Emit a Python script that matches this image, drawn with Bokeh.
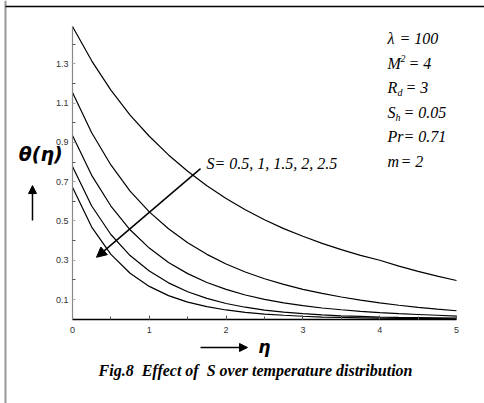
from bokeh.plotting import figure
from bokeh.models import (Range1d, FixedTicker, SingleIntervalTicker, Label, Arrow,
                          NormalHead, LinearAxis)
from bokeh.embed import file_html
from bokeh.resources import INLINE

# ---- data ----
eta = [0, 0.25, 0.5, 0.75, 1.0, 1.25, 1.5, 1.75, 2.0, 2.25, 2.5,
       2.75, 3.0, 3.25, 3.5, 3.75, 4.0, 4.25, 4.5, 4.75, 5.0]
theta_S05 = [1.490, 1.315, 1.166, 1.039, 0.931, 0.836, 0.753, 0.679, 0.614, 0.557, 0.506,
             0.461, 0.422, 0.386, 0.354, 0.325, 0.300, 0.270, 0.243, 0.219, 0.197]
theta_S10 = [1.154, 0.949, 0.785, 0.652, 0.546, 0.460, 0.389, 0.330, 0.281, 0.240, 0.206,
             0.177, 0.152, 0.131, 0.113, 0.097, 0.083, 0.071, 0.060, 0.051, 0.043]
theta_S15 = [0.935, 0.732, 0.576, 0.455, 0.362, 0.289, 0.232, 0.187, 0.152, 0.123, 0.101,
             0.083, 0.069, 0.057, 0.048, 0.040, 0.033, 0.028, 0.024, 0.020, 0.016]
theta_S20 = [0.777, 0.576, 0.431, 0.324, 0.245, 0.185, 0.140, 0.106, 0.080, 0.061, 0.046,
             0.036, 0.028, 0.022, 0.017, 0.014, 0.011, 0.009, 0.008, 0.007, 0.006]
theta_S25 = [0.672, 0.469, 0.330, 0.234, 0.167, 0.120, 0.087, 0.064, 0.047, 0.035, 0.026,
             0.020, 0.015, 0.011, 0.009, 0.007, 0.005, 0.004, 0.003, 0.003, 0.002]
curves = [theta_S05, theta_S10, theta_S15, theta_S20, theta_S25]

S_label = "S= 0.5, 1, 1.5, 2, 2.5"
y_ticks = [0.1, 0.3, 0.5, 0.7, 0.9, 1.1, 1.3]
y_minor = [0.2, 0.4, 0.6, 0.8, 1.0, 1.2, 1.4]

param_name = ["λ", "M", "R", "S", "Pr", "m"]
param_small = ["", "2", "d", "h", "", ""]
param_value = ["100", "4", "3", "0.05", "0.71", "2"]
param_y = [1.4285, 1.3033, 1.1781, 1.0529, 0.9277, 0.8025]

title_text = "Fig.8\u00a0 Effect of\u00a0 S over temperature distribution"

# ---- figure: the frame covers the whole canvas, axes are fixed at 0 ----
p = figure(width=484, height=403, output_backend="svg", toolbar_location=None,
           x_range=Range1d(-0.9375, 5.3646), y_range=Range1d(-0.4290, 1.6219),
           x_axis_location=None, y_axis_location=None,
           min_border=0, min_border_left=0, min_border_right=0,
           min_border_top=0, min_border_bottom=0,
           background_fill_color="white", border_fill_color="white")
p.title.visible = False
p.xgrid.visible = False
p.ygrid.visible = False
p.outline_line_color = None

# decorative frame lines of the original figure box
p.vspan(x=[-0.8724], line_color="#999", line_width=2)
p.segment(x0=[-0.8724], y0=[1.592], x1=[5.3646], y1=[1.592],
          line_color="black", line_width=1.5)

for ys in curves:
    p.line(eta, ys, line_color="black", line_width=1.2)

xa = LinearAxis(fixed_location=0, bounds=(0, 5),
                ticker=SingleIntervalTicker(interval=1, num_minor_ticks=2))
xa.axis_line_color = "black"
xa.axis_line_width = 1.6
xa.major_tick_in = 4
xa.major_tick_out = 0
xa.minor_tick_in = 3
xa.minor_tick_out = 0
xa.major_tick_line_color = "#555"
xa.minor_tick_line_color = "#555"
xa.major_label_text_font = "Liberation Sans"
xa.major_label_text_font_size = "9px"
xa.major_label_text_color = "#333"
xa.major_label_standoff = 8
p.add_layout(xa, "below")

ya = LinearAxis(fixed_location=0, bounds=(0, 1.49),
                ticker=FixedTicker(ticks=y_ticks, minor_ticks=y_minor))
ya.axis_line_color = "#888"
ya.axis_line_width = 1.2
ya.major_tick_in = 3
ya.major_tick_out = 0
ya.minor_tick_in = 3
ya.minor_tick_out = 0
ya.major_tick_line_color = "#aaa"
ya.minor_tick_line_color = "#555"
ya.major_label_text_font = "Liberation Sans"
ya.major_label_text_font_size = "9px"
ya.major_label_text_color = "#333"
ya.major_label_standoff = 4
p.add_layout(ya, "left")

# axis captions with arrows
p.add_layout(Label(x=-0.70, y=0.843, text="θ(η)", text_font="DejaVu Sans",
                   text_font_style="bold italic", text_font_size="19px",
                   text_baseline="middle", text_align="left", text_color="black"))
p.add_layout(Arrow(x_start=-0.521, y_start=0.502, x_end=-0.521, y_end=0.680,
                   line_width=1.5, line_color="black",
                   end=NormalHead(size=8, fill_color="black", line_color="black")))
p.add_layout(Arrow(x_start=1.667, y_start=-0.144, x_end=2.279, y_end=-0.144,
                   line_width=1.5, line_color="black",
                   end=NormalHead(size=8, fill_color="black", line_color="black")))
p.add_layout(Label(x=2.42, y=-0.144, text="η", text_font="DejaVu Sans",
                   text_font_style="bold italic", text_font_size="17px",
                   text_baseline="middle", text_align="left", text_color="black"))

# caption
p.add_layout(Label(x=2.383, y=-0.261, text=title_text, text_font="Liberation Serif",
                   text_font_style="bold italic", text_font_size="16px",
                   text_baseline="middle", text_align="center", text_color="black"))

# S annotation with arrow
p.add_layout(Label(x=1.745, y=0.792, text=S_label, text_font="Liberation Serif",
                   text_font_style="italic", text_font_size="16px",
                   text_baseline="middle", text_align="left", text_color="black"))
p.add_layout(Arrow(x_start=1.667, y_start=0.766, x_end=0.3125, y_end=0.315,
                   line_width=1.5, line_color="black",
                   end=NormalHead(size=10, fill_color="black", line_color="black")))

# parameter block
small_dx = [0, 13, 10, 8, 0, 0]
small_dy = [0, 5, -5, -5, 0, 0]
eq_dx = [12, 21, 18, 16, 16, 13]
for name, small, val, yy, dx, dy, ex in zip(param_name, param_small, param_value,
                                             param_y, small_dx, small_dy, eq_dx):
    p.add_layout(Label(x=4.10, y=yy, text=name, text_font="Liberation Serif",
                       text_font_style="italic", text_font_size="16px",
                       text_baseline="middle", text_align="left", text_color="black"))
    if small:
        p.add_layout(Label(x=4.10, y=yy, x_offset=dx, y_offset=dy, text=small,
                           text_font="Liberation Serif", text_font_style="italic",
                           text_font_size="10px", text_baseline="middle",
                           text_align="left", text_color="black"))
    p.add_layout(Label(x=4.10, y=yy, x_offset=ex, text="= " + val,
                       text_font="Liberation Serif", text_font_style="italic",
                       text_font_size="16px", text_baseline="middle",
                       text_align="left", text_color="black"))

open("out.html", "w").write(file_html(p, INLINE))
